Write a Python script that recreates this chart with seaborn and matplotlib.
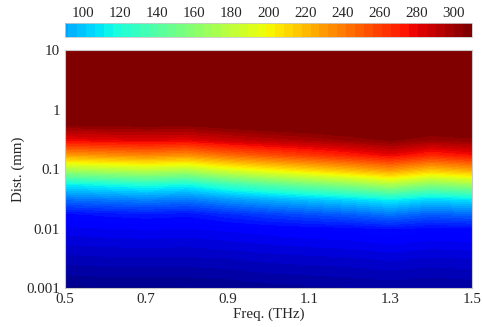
import numpy as np
import matplotlib
matplotlib.use("Agg")
import matplotlib.pyplot as plt
import matplotlib as mpl
import seaborn as sns

# ---- data ----
freqs_thz = [0.5, 0.6, 0.7, 0.8, 0.9, 1.0, 1.1, 1.2, 1.3, 1.4, 1.5]
dist_mm = [0.001, 0.00316, 0.01, 0.0178, 0.0316, 0.0562,
           0.1, 0.178, 0.316, 0.562, 1.0, 10.0]
# temperature rows: one row per frequency, one value per distance
temps = [
    [3, 17, 32, 42, 73, 110, 170, 229, 278, 305, 320, 330],   # 0.5
    [4, 18, 33, 45, 76, 115, 175, 233, 280, 306, 320, 330],   # 0.6
    [4, 18, 34, 47, 79, 120, 179, 237, 282, 307, 320, 330],   # 0.7
    [4, 18, 33, 45, 76, 115, 175, 233, 280, 306, 320, 330],   # 0.8
    [5, 19, 35, 52, 85, 129, 189, 245, 287, 310, 321, 331],   # 0.9
    [7, 21, 37, 58, 92, 140, 200, 254, 292, 313, 321, 331],   # 1.0
    [8, 22, 39, 63, 98, 150, 210, 262, 296, 315, 322, 332],   # 1.1
    [9, 23, 40, 68, 104, 160, 220, 270, 301, 318, 322, 332],  # 1.2
    [10, 25, 43, 75, 112, 172, 231, 279, 306, 320, 323, 333], # 1.3
    [9, 23, 40, 67, 103, 158, 217, 268, 300, 317, 322, 332],  # 1.4
    [10, 24, 41, 71, 108, 166, 226, 275, 303, 319, 322, 332], # 1.5
]
x_ticks = [0.5, 0.7, 0.9, 1.1, 1.3, 1.5]
x_tick_labels = ["0.5", "0.7", "0.9", "1.1", "1.3", "1.5"]
y_ticks_mm = [0.001, 0.01, 0.1, 1, 10]
y_tick_labels = ["0.001", "0.01", "0.1", "1", "10"]
cbar_ticks = [100, 120, 140, 160, 180, 200, 220, 240, 260, 280, 300]
c_min, c_max = 0, 310
cbar_view = (90, 310)

# ---- style ----
sns.set_style("white")
plt.rcParams["font.family"] = ["Liberation Serif", "DejaVu Serif"]
plt.rcParams["font.size"] = 10.8

cmap = mpl.colormaps["jet"].resampled(64)

fig = plt.figure(figsize=(4.83, 3.27), dpi=100)
ax = fig.add_axes([0.134, 0.119, 0.843, 0.728])
cax = fig.add_axes([0.134, 0.886, 0.843, 0.043])

F = np.array(freqs_thz)
LD = np.log10(np.array(dist_mm))
Z = np.array(temps).T  # shape (n_dist, n_freq)
levels = np.linspace(c_min, c_max, 65)
cs = ax.contourf(F, LD, Z, levels=levels, cmap=cmap, extend="max", antialiased=False)
try:
    cs.set_edgecolor("face")
except Exception:
    pass

ax.set_xlim(0.5, 1.5)
ax.set_ylim(-3, 1)
ax.set_xticks(x_ticks)
ax.set_xticklabels(x_tick_labels)
ax.set_yticks(np.log10(y_ticks_mm))
ax.set_yticklabels(y_tick_labels)
ax.tick_params(axis="both", direction="out", length=2.5, width=0.8,
               color="#999999", pad=1, labelsize=10.8)
ax.set_xlabel("Freq. (THz)", fontsize=10.8, labelpad=1)
ax.set_ylabel("Dist. (mm)", fontsize=10.8, labelpad=1)
for s in ax.spines.values():
    s.set_color("#c8c8c8")
    s.set_linewidth(0.8)

sm = mpl.cm.ScalarMappable(norm=mpl.colors.Normalize(c_min, c_max), cmap=cmap)
cb = fig.colorbar(sm, cax=cax, orientation="horizontal", ticks=cbar_ticks)
cax.set_xlim(*cbar_view)
cax.xaxis.set_ticks_position("top")
cax.tick_params(axis="x", direction="in", length=2.5, width=0.6,
                color="#777777", pad=2, labelsize=10.8)
cb.outline.set_edgecolor("#c8c8c8")
cb.outline.set_linewidth(0.6)

fig.savefig("out.png", dpi=100)
